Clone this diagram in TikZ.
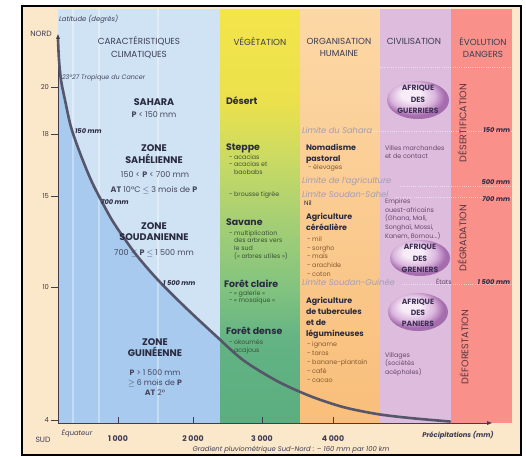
\documentclass[tikz,border=0pt]{standalone}
\usepackage{fontspec}
\setmainfont{Poppins}
\usetikzlibrary{arrows.meta}
\definecolor{beige}{HTML}{FBE7C9}
\definecolor{bluelt}{HTML}{D0E3F5}
\definecolor{bluedk}{HTML}{A7CAEE}
\definecolor{orgA}{HTML}{FCD8A6}
\definecolor{orgB}{HTML}{F9BE7A}
\definecolor{purp}{HTML}{DDBCDD}
\definecolor{redc}{HTML}{F9918A}
\definecolor{vgA}{HTML}{F3E54A}
\definecolor{vgB}{HTML}{ECE14C}
\definecolor{vgC}{HTML}{C9DA63}
\definecolor{vgD}{HTML}{A9D073}
\definecolor{vgE}{HTML}{84C47F}
\definecolor{vgF}{HTML}{63B384}
\definecolor{vgG}{HTML}{5BAE80}
\definecolor{txt}{HTML}{2A2A40}
\definecolor{hdrc}{HTML}{3C3C54}
\definecolor{subc}{HTML}{45455E}
\definecolor{limc}{HTML}{A29DB2}
\definecolor{vegs}{HTML}{3A5234}
\definecolor{orgs}{HTML}{84582E}
\definecolor{purs}{HTML}{664870}
\definecolor{vert}{HTML}{5A3440}
\definecolor{curvec}{HTML}{56566A}
\definecolor{axisc}{HTML}{3E3E50}
\definecolor{afrA}{HTML}{F7ECF7}
\definecolor{afrB}{HTML}{DAB5DD}
\definecolor{afrC}{HTML}{A56CAE}
\definecolor{afrT}{HTML}{3E2F55}
\pgfdeclareradialshading{afrq}{\pgfpoint{-7bp}{9bp}}{color(0bp)=(afrA); color(8bp)=(afrA); color(18bp)=(afrB); color(25bp)=(afrC); color(50bp)=(afrC)}
\tikzset{
  every node/.style={inner sep=0pt, outer sep=0pt},
  hdr/.style={font=\fontsize{8.8}{12.5}\selectfont, text=hdrc, align=center},
  zone/.style={font=\bfseries\fontsize{9.6}{11.5}\selectfont, text=txt, align=center},
  zsub/.style={font=\fontsize{8}{9.5}\selectfont, text=subc, align=center},
  cml/.style={font=\bfseries\itshape\fontsize{6.6}{7}\selectfont, text=txt, anchor=west},
  vname/.style={font=\bfseries\fontsize{9.4}{11}\selectfont, text=txt, anchor=west, align=left},
  oname/.style={font=\bfseries\fontsize{7.9}{11}\selectfont, text=txt, anchor=west, align=left},
  vlist/.style={font=\fontsize{6.3}{7.8}\selectfont, text=vegs, anchor=west, align=left},
  olist/.style={font=\fontsize{6.4}{8.9}\selectfont, text=orgs, anchor=west, align=left},
  plist/.style={font=\fontsize{6.4}{8.6}\selectfont, text=purs, anchor=west, align=left},
  limit/.style={font=\itshape\fontsize{8.3}{9}\selectfont, text=limc, anchor=west},
  afr/.style={font=\bfseries\fontsize{7.6}{11.3}\selectfont, text=afrT, align=center},
  vtext/.style={font=\fontsize{9.6}{10}\selectfont, text=vert, rotate=90},
  mml/.style={font=\bfseries\itshape\fontsize{6.6}{7}\selectfont, text=txt, anchor=east},
  ylab/.style={font=\fontsize{6.8}{7}\selectfont, text=hdrc, anchor=east},
  xlab/.style={font=\bfseries\fontsize{7.8}{8}\selectfont, text=hdrc},
  axsmall/.style={font=\itshape\fontsize{6.8}{7}\selectfont, text=hdrc},
  dotline/.style={white, opacity=0.5, line width=0.6pt, dash pattern=on 1pt off 1.2pt}
}
\begin{document}
\begin{tikzpicture}[x=1pt,y=-1pt]
\useasboundingbox (0,0) rectangle (526,456);
\fill[white] (0,0) rectangle (526,456);
\fill[beige] (22,6) rectangle (521,455);
% columns
\fill[bluelt] (58,9) rectangle (220,423);
\begin{scope}
  \clip (58,9) rectangle (220,423);
  \fill[bluedk] plot[smooth] coordinates {(58,40) (59,60) (61,80) (65,100) (71,127) (80,153) (91,180) (101,200) (112,220) (124,238) (138,257) (158,280) (185,307) (215,335) (243,360) (277,381)} -- (277,423) -- (58,423) -- cycle;
  \foreach \gx in {73,99,158}{\draw[white, opacity=0.35, line width=1.2pt] (\gx,9) -- (\gx,423);}
\end{scope}
\shade[top color=vgA, bottom color=vgB] (220,9) rectangle (300,100.5);
\shade[top color=vgB, bottom color=vgC] (220,100) rectangle (300,160.5);
\shade[top color=vgC, bottom color=vgD] (220,160) rectangle (300,215.5);
\shade[top color=vgD, bottom color=vgE] (220,215) rectangle (300,285.5);
\shade[top color=vgE, bottom color=vgF] (220,285) rectangle (300,340.5);
\shade[top color=vgF, bottom color=vgG] (220,340) rectangle (300,423);
\shade[top color=orgA, bottom color=orgB] (300,9) rectangle (380,423);
\fill[purp] (380,9) rectangle (451,423);
\fill[redc] (451,9) rectangle (512,423);
% dotted limit lines
\draw[dotline] (380,67) -- (512,67);
\draw[dotline] (372,131) -- (512,131);
\draw[dotline] (400,186) -- (512,186);
\draw[dotline] (396,197) -- (512,197);
\draw[dotline] (402,284) -- (512,284);
% frame
\draw[black, line width=1.6pt] (22,6) rectangle (521,455);
% axes
\coordinate (orig) at (58,423);
\coordinate (ytop) at (58,34);
\coordinate (xend) at (492,423);
\draw[axisc, line width=1pt, -{Triangle[length=5pt,width=3.6pt]}] (orig) -- (ytop);
\draw[axisc, line width=1pt, -{Triangle[length=5pt,width=3.6pt]}] (orig) -- (xend);
\foreach \ty/\tl in {87/20,134/18,196/15,287/10,420/4}{
  \draw[axisc, line width=0.7pt] (51,\ty) -- (58,\ty);
  \node[ylab] (yl\tl) at (49,\ty) {\tl};
}
\foreach \tx/\tl in {118/{1 000},193/{2 000},262/{3 000},333/{4 000}}{
  \draw[axisc, line width=0.7pt] (\tx,417) -- (\tx,423);
  \node[xlab] at (\tx,439) {\tl};
}
% curve
\draw[curvec, line width=2.6pt, line cap=round] plot[smooth] coordinates {(58,40) (59,60) (61,80) (65,100) (71,127) (80,153) (91,180) (101,200) (112,220) (124,238) (138,257) (158,280) (185,307) (215,335) (243,360) (277,381) (310,396) (343,407) (377,414) (410,418) (450,421.5)};
% axis texts
\node[axsmall, anchor=west] (lat) at (59,19) {Latitude (degrés)};
\node[font=\fontsize{7.6}{8}\selectfont, text=hdrc] (nord) at (41,34) {NORD};
\node[font=\fontsize{7.6}{8}\selectfont, text=hdrc] (sud) at (43,440) {SUD};
\node[axsmall] (equ) at (77,433) {Équateur};
\node[axsmall] (grad) at (291,450) {Gradient pluviométrique Sud-Nord : – 160 mm par 100 km};
\node[font=\bfseries\itshape\fontsize{6.8}{7}\selectfont, text=hdrc] (prec) at (458,435) {Précipitations (mm)};
% headers
\node[hdr] (h1) at (139,47.5) {CARACTÉRISTIQUES\\CLIMATIQUES};
\node[hdr] (h2) at (260,41) {VÉGÉTATION};
\node[hdr] (h3) at (339,47.5) {ORGANISATION\\HUMAINE};
\node[hdr] (h4) at (414,41) {CIVILISATION};
\node[hdr] (h5) at (483,47.5) {ÉVOLUTION\\DANGERS};
% climate column
\node[font=\itshape\fontsize{6.4}{7}\selectfont, text=subc, anchor=west] (trop) at (62,78) {23°27 Tropique du Cancer};
\node[zone] (sah) at (154,102.5) {SAHARA};
\node[zsub] (sahp) at (154,114.5) {\textbf{P} < 150 mm};
\node[cml] (c150) at (75,131) {150 mm};
\node[zone] (sahel) at (154,154) {ZONE\\SAHÉLIENNE};
\node[zsub] (sahelp) at (155,175) {150 < \textbf{P} < 700 mm};
\node[zsub] (sahelat) at (154,190.5) {\textbf{AT} 10°C $\leq$ 3 mois de \textbf{P}};
\node[cml] (c700) at (101,202) {700 mm};
\node[zone] (soud) at (154,231.5) {ZONE\\SOUDANIENNE};
\node[zsub] (soudp) at (154,253) {700 $\leq$ \textbf{P} $\leq$ 1 500 mm};
\node[cml] (c1500) at (163,283) {1 500 mm};
\node[zone] (guin) at (155,347.5) {ZONE\\GUINÉENNE};
\node[zsub, font=\fontsize{7.8}{10}\selectfont] (guinp) at (155,383) {\textbf{P} > 1 500 mm\\$\geq$ 6 mois de \textbf{P}\\\textbf{AT} 2°};
% vegetation column
\node[vname] (desert) at (226,101) {Désert};
\node[vname] (steppe) at (226,148) {Steppe};
\node[vlist] (steppel) at (229,164.5) {- acacias\\- acacias et\\\phantom{- }baobabs};
\node[vlist] (brousse) at (229,195) {- brousse tigrée};
\node[vname] (savane) at (226,222) {Savane};
\node[vlist] (savl) at (229,245) {- multiplication\\\phantom{- }des arbres vers\\\phantom{- }le sud\\\phantom{- }(« arbres utiles »)};
\node[vname] (fclaire) at (224,284) {Forêt claire};
\node[vlist] (fcl) at (229,297.5) {- « galerie »\\- « mosaïque »};
\node[vname] (fdense) at (226,331) {Forêt dense};
\node[vlist] (fdl) at (229,346.5) {- okoumés\\- acajous};
% organisation column
\node[limit] (lsah) at (302,130) {Limite du Sahara};
\node[oname] (nomad) at (306,154) {Nomadisme\\pastoral};
\node[olist] (elev) at (308,168) {- élevages};
\node[limit] (lagr) at (302,181) {Limite de l'agriculture};
\node[limit] (lss) at (302,194.5) {Limite Soudan-Sahel};
\node[olist, text=txt] (nil) at (304,203) {Nil};
\node[oname] (agric) at (306,222) {Agriculture\\céréalière};
\node[olist] (agricl) at (307,256.5) {- mil\\- sorgho\\- maïs\\- arachide\\- coton};
\node[limit] (lsg) at (302,282) {Limite Soudan-Guinée};
\node[oname] (agrit) at (306,317.5) {Agriculture\\de tubercules\\et de\\légumineuses};
\node[olist] (agritl) at (307,362) {- igname\\- taros\\- banane-plantain\\- café\\- cacao};
% civilisation column
\shade[shading=afrq] (418,100) ellipse [x radius=31pt, y radius=19pt];
\node[afr] (guer) at (418,99.5) {AFRIQUE\\DES\\GUERRIERS};
\node[plist] (villes) at (385,152) {Villes marchandes\\et de contact};
\node[plist] (emp) at (385,219) {Empires\\ouest-africains\\(Ghana, Mali,\\Songhaï, Mossi,\\Kanem, Bornou...)};
\shade[shading=afrq] (420,258) ellipse [x radius=30pt, y radius=18pt];
\node[afr] (gren) at (420,258.5) {AFRIQUE\\DES\\GRENIERS};
\node[plist] (etats) at (436,282) {États};
\shade[shading=afrq] (418,312) ellipse [x radius=30pt, y radius=19pt];
\node[afr] (pan) at (418,313) {AFRIQUE\\DES\\PANIERS};
\node[plist] (vill) at (385,364) {Villages\\(sociétés\\acéphales)};
% dangers column
\node[vtext] (dsert) at (462,123) {DÉSERTIFICATION};
\node[vtext] (dgrad) at (462,238) {DÉGRADATION};
\node[vtext] (dfor) at (464,347) {DÉFORESTATION};
\node[mml] (m150) at (510,130) {150 mm};
\node[mml] (m500) at (510,182) {500 mm};
\node[mml] (m700) at (510,199) {700 mm};
\node[mml] (m1500) at (510,282) {1 500 mm};
\end{tikzpicture}
\end{document}
